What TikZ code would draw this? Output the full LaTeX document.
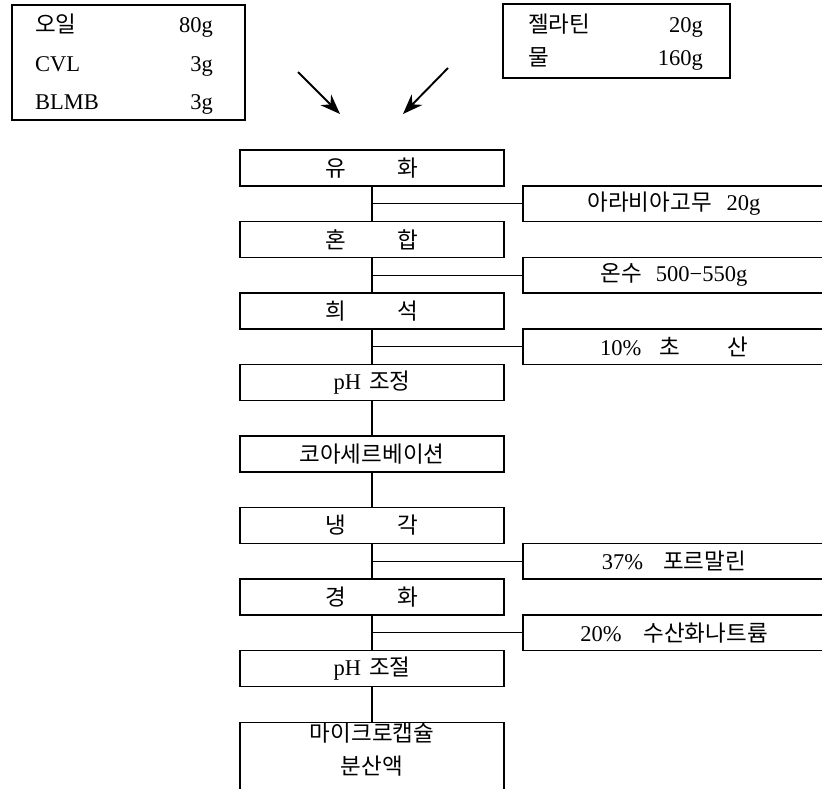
\documentclass[tikz,border=0pt]{standalone}
\usepackage{fontspec}
\setmainfont{Liberation Serif}
\newfontfamily\kr{Noto Sans CJK KR}
\usetikzlibrary{arrows.meta}
\begin{document}
\begin{tikzpicture}[x=1pt,y=-1pt,
  every node/.style={font=\fontsize{22.5}{26}\selectfont},
  box/.style={draw, line width=1.1pt, inner sep=0pt},
  mainbox/.style={box, minimum width=264pt, minimum height=36pt},
  sidebox/.style={box, minimum width=302pt, minimum height=35.5pt},
  link/.style={line width=1.1pt},
  feed/.style={line width=1.9pt, -{Stealth[length=20pt,width=15pt]}},
  lbl/.style={inner sep=0pt}]
\useasboundingbox (0,0) rectangle (822,789);
\clip (0,0) rectangle (822,789);
% input boxes
\node[box, minimum width=233pt, minimum height=115pt] (oilbox) at (128.5,62.5) {};
\node[lbl, anchor=base west] (oil) at (35,33) {\kr 오일};
\node[lbl, anchor=base east] (oilv) at (213,33) {80g};
\node[lbl, anchor=base west] (cvl) at (35,72) {CVL};
\node[lbl, anchor=base east] (cvlv) at (213,72) {3g};
\node[lbl, anchor=base west] (blmb) at (35,110) {BLMB};
\node[lbl, anchor=base east] (blmbv) at (213,110) {3g};
\node[box, minimum width=227pt, minimum height=74pt] (gelbox) at (616.5,41) {};
\node[lbl, anchor=base west] (gel) at (528,33) {\kr 젤라틴};
\node[lbl, anchor=base east] (gelv) at (703,33) {20g};
\node[lbl, anchor=base west] (wat) at (528,65.5) {\kr 물};
\node[lbl, anchor=base east] (watv) at (703,65.5) {160g};
% arrows
\coordinate (a1s) at (298,72);
\coordinate (a1e) at (340,114);
\coordinate (a2s) at (448,68);
\coordinate (a2e) at (403,114);
\draw[feed] (a1s) -- (a1e);
\draw[feed] (a2s) -- (a2e);
% main chain
\node[mainbox] (m1) at (372,168) {\kr 유\hspace{51pt}화};
\node[mainbox] (m2) at (372,239.5) {\kr 혼\hspace{51pt}합};
\node[mainbox] (m3) at (372,311) {\kr 희\hspace{51pt}석};
\node[mainbox] (m4) at (372,382.5) {pH\hspace{8pt}{\kr 조정}};
\node[mainbox] (m5) at (372,454) {\kr 코아세르베이션};
\node[mainbox] (m6) at (372,525.5) {\kr 냉\hspace{51pt}각};
\node[mainbox] (m7) at (372,597) {\kr 경\hspace{51pt}화};
\node[mainbox] (m8) at (372,668.5) {pH\hspace{8pt}{\kr 조절}};
\node[mainbox, minimum height=80pt, anchor=north] (m9) at (372,722) {};
\node[lbl, align=center, font=\fontsize{22.5}{33}\selectfont\kr] (m9t) at (372,749.5) {마이크로캡슐\\분산액};
% side inputs
\node[sidebox] (s1) at (674,203.75) {{\kr 아라비아고무}\hspace{15pt}20g};
\node[sidebox] (s2) at (674,275.25) {{\kr 온수}\hspace{14pt}500−550g};
\node[sidebox] (s3) at (674,346.75) {10\%\hspace{18pt}{\kr 초\hspace{47pt}산}};
\node[sidebox] (s6) at (674,561.25) {37\%\hspace{20pt}{\kr 포르말린}};
\node[sidebox] (s7) at (674,632.75) {20\%\hspace{22pt}{\kr 수산화나트륨}};
% connectors
\draw[link] (m1.south) -- (m2.north);
\draw[link] (m2.south) -- (m3.north);
\draw[link] (m3.south) -- (m4.north);
\draw[link] (m4.south) -- (m5.north);
\draw[link] (m5.south) -- (m6.north);
\draw[link] (m6.south) -- (m7.north);
\draw[link] (m7.south) -- (m8.north);
\draw[link] (m8.south) -- (m9.north);
\draw[link] (m1.south |- s1.west) -- (s1.west);
\draw[link] (m2.south |- s2.west) -- (s2.west);
\draw[link] (m3.south |- s3.west) -- (s3.west);
\draw[link] (m6.south |- s6.west) -- (s6.west);
\draw[link] (m7.south |- s7.west) -- (s7.west);
\end{tikzpicture}
\end{document}
